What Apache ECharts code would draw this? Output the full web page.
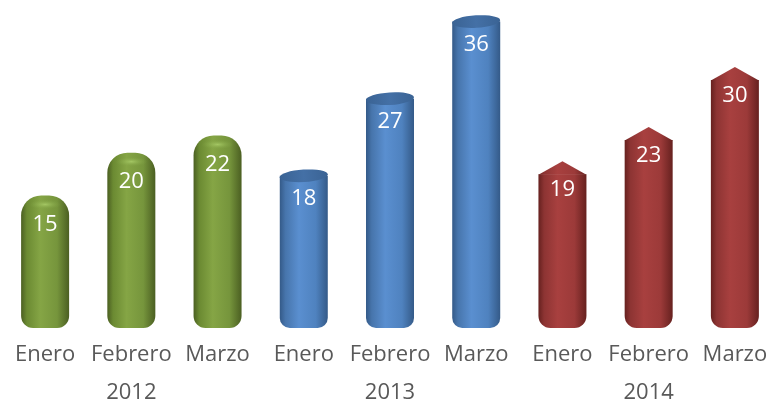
<!DOCTYPE html>
<html>
<head>
<meta charset="utf-8">
<script src="https://cdn.jsdelivr.net/npm/echarts@6/dist/echarts.min.js"></script>
<style>
  html, body { margin: 0; padding: 0; background: #fff; }
  #chart { width: 778px; height: 405px; }
</style>
</head>
<body>
<div id="chart"></div>
<script>
// categorías
var months = ["Enero", "Febrero", "Marzo", "Enero", "Febrero", "Marzo", "Enero", "Febrero", "Marzo"];
var years = ["2012", "2013", "2014"];
// valores por año
var values2012 = [15, 20, 22];
var values2013 = [18, 27, 36];
var values2014 = [19, 23, 30];

var BAR_W = 48;

// gradiente horizontal tipo cilindro
function cyl(dark, mid, light, edge) {
    return new echarts.graphic.LinearGradient(0, 0, 1, 0, [
        { offset: 0, color: edge },
        { offset: 0.12, color: dark },
        { offset: 0.4, color: light },
        { offset: 0.75, color: mid },
        { offset: 1, color: edge }
    ]);
}

var styles = {
    green: cyl("#6b8a32", "#76953c", "#85a545", "#4b5f22"),
    blue: cyl("#4775ac", "#4f82bf", "#5a8fd0", "#345a88"),
    red: cyl("#8d3433", "#9c3a39", "#a8403f", "#66211f")
};

function makeRender(kind) {
    return function (params, api) {
        var idx = api.value(0);
        var val = api.value(1);
        var top = api.coord([idx, val]);
        var base = api.coord([idx, 0]);
        var cx = top[0];
        var x = cx - BAR_W / 2;
        var topY = top[1];
        var botY = base[1] + 4;
        var fill = styles[kind];
        var children = [];

        if (kind === "green") {
            children.push({
                type: "rect",
                shape: { x: x, y: topY, width: BAR_W, height: botY - topY, r: [20, 20, 12, 12] },
                style: { fill: fill }
            });
            // brillo superior
            children.push({
                type: "circle",
                x: cx, y: topY + 9, scaleY: 0.3,
                shape: { cx: 0, cy: 0, r: 16 },
                style: {
                    fill: new echarts.graphic.RadialGradient(0.5, 0.5, 0.5, [
                        { offset: 0, color: "rgba(170,205,105,0.85)" },
                        { offset: 1, color: "rgba(130,165,70,0)" }
                    ])
                }
            });
        } else if (kind === "blue") {
            children.push({
                type: "rect",
                shape: { x: x, y: topY + 6, width: BAR_W, height: botY - topY - 6, r: [0, 0, 10, 10] },
                style: { fill: fill }
            });
            children.push({
                type: "circle",
                x: cx, y: topY + 6, scaleY: 0.26, rotation: 0.06,
                shape: { cx: 0, cy: 0, r: BAR_W / 2 },
                style: {
                    fill: new echarts.graphic.LinearGradient(0, 0, 1, 0, [
                        { offset: 0, color: "#3a6394" },
                        { offset: 0.5, color: "#4470a6" },
                        { offset: 1, color: "#3a6394" }
                    ])
                }
            });
        } else {
            children.push({
                type: "rect",
                shape: { x: x, y: topY + 13, width: BAR_W, height: botY - topY - 13, r: [0, 0, 12, 12] },
                style: { fill: fill }
            });
            children.push({
                type: "polygon",
                shape: { points: [[x, topY + 13.5], [cx, topY], [x + BAR_W, topY + 13.5]] },
                style: { fill: fill }
            });
        }

        children.push({
            type: "text",
            x: cx, y: topY + 29,
            style: {
                text: String(val),
                fill: "#fff",
                font: '22px "Open Sans", sans-serif',
                align: "center",
                verticalAlign: "middle"
            }
        });
        return { type: "group", children: children };
    };
}

function toData(vals, offset) {
    return vals.map(function (v, i) { return [offset + i, v]; });
}

var chart = echarts.init(document.getElementById("chart"));
chart.setOption({
    animation: false,
    grid: { left: 2, right: 0, top: 7, bottom: 81 },
    xAxis: [
        {
            type: "category",
            data: months,
            axisLine: { show: false },
            axisTick: { show: false },
            axisLabel: {
                margin: 20,
                interval: 0,
                color: "#595959",
                fontFamily: "Open Sans",
                fontSize: 22
            }
        },
        {
            type: "category",
            data: years,
            position: "bottom",
            offset: 38,
            axisLine: { show: false },
            axisTick: { show: false },
            axisLabel: {
                margin: 20,
                color: "#595959",
                fontFamily: "Open Sans",
                fontSize: 22
            }
        }
    ],
    yAxis: { type: "value", min: 0, max: 37, show: false, splitLine: { show: false } },
    series: [
        { type: "custom", renderItem: makeRender("green"), data: toData(values2012, 0), encode: { x: 0, y: 1 } },
        { type: "custom", renderItem: makeRender("blue"), data: toData(values2013, 3), encode: { x: 0, y: 1 } },
        { type: "custom", renderItem: makeRender("red"), data: toData(values2014, 6), encode: { x: 0, y: 1 } }
    ]
});
</script>
</body>
</html>
